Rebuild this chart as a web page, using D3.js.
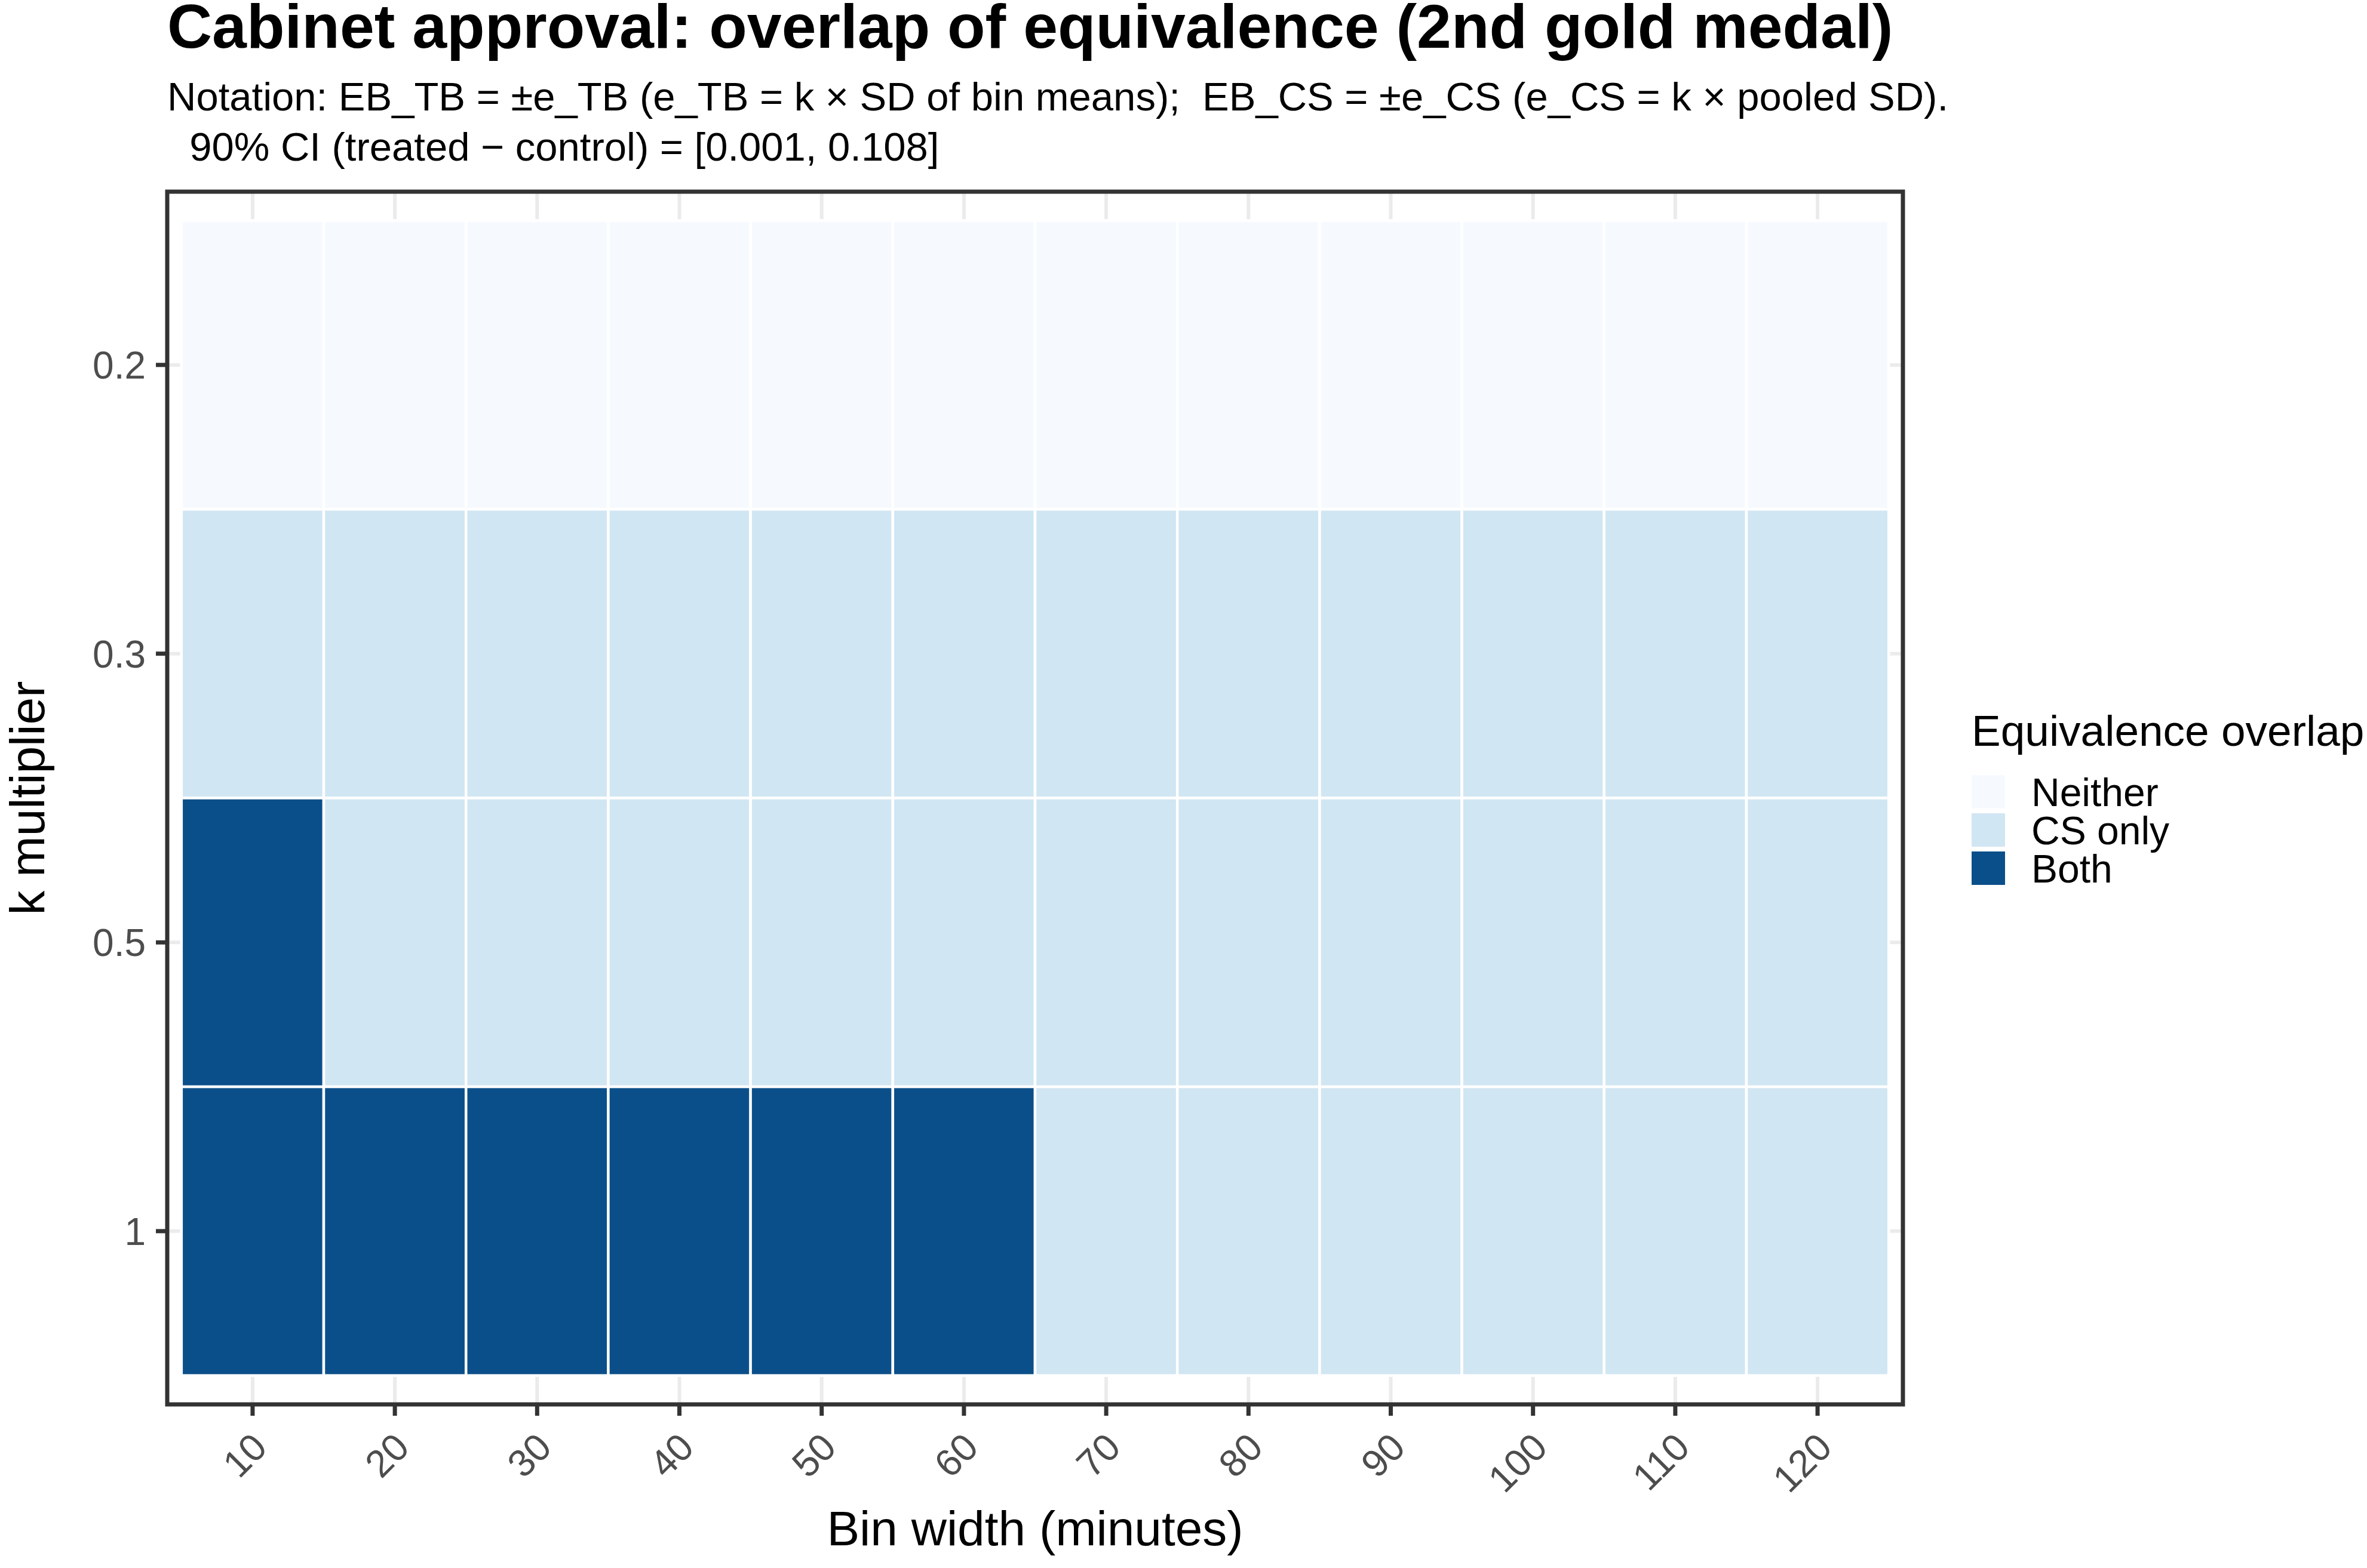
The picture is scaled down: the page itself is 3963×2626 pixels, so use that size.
<!DOCTYPE html>
<html>
<head>
<meta charset="utf-8">
<script src="https://cdn.jsdelivr.net/npm/d3@7"></script>
<style>
  body { margin: 0; background: #ffffff; }
  svg text { font-family: "Liberation Sans", Arial, Helvetica, sans-serif; white-space: pre; }
</style>
</head>
<body>
<svg id="canvas" width="3963" height="2626"></svg>
<script>
// data
const binWidths = [10, 20, 30, 40, 50, 60, 70, 80, 90, 100, 110, 120];
const kValues = ["0.2", "0.3", "0.5", "1"];
const overlapLevels = ["Neither", "CS only", "Both"];

// overlap result per k row, one entry per bin width
const overlap_k02 = ["Neither", "Neither", "Neither", "Neither", "Neither", "Neither", "Neither", "Neither", "Neither", "Neither", "Neither", "Neither"];
const overlap_k03 = ["CS only", "CS only", "CS only", "CS only", "CS only", "CS only", "CS only", "CS only", "CS only", "CS only", "CS only", "CS only"];
const overlap_k05 = ["Both", "CS only", "CS only", "CS only", "CS only", "CS only", "CS only", "CS only", "CS only", "CS only", "CS only", "CS only"];
const overlap_k1 = ["Both", "Both", "Both", "Both", "Both", "Both", "CS only", "CS only", "CS only", "CS only", "CS only", "CS only"];

const titleText = "Cabinet approval: overlap of equivalence (2nd gold medal)";
const subtitleLines = [
  "Notation: EB_TB = \u00b1e_TB (e_TB = k \u00d7 SD of bin means);  EB_CS = \u00b1e_CS (e_CS = k \u00d7 pooled SD).",
  "  90% CI (treated \u2212 control) = [0.001, 0.108]",
];

const rows = [overlap_k02, overlap_k03, overlap_k05, overlap_k1];
const cells = [];
kValues.forEach((k, i) => {
  binWidths.forEach((b, j) => {
    cells.push({ k: k, bin: b, status: rows[i][j] });
  });
});

const svg = d3.select("#canvas");
svg.append("rect").attr("width", 3963).attr("height", 2626).attr("fill", "#ffffff");

// panel box
const panel = { left: 280, right: 3186, top: 321, bottom: 2352 };

// discrete scales: ggplot expands 0.6 units from the outer tile centres,
// i.e. 0.1 units beyond the tile edges
const x = d3.scaleBand()
  .domain(binWidths)
  .range([panel.left, panel.right])
  .paddingInner(0)
  .paddingOuter(0.1);
const y = d3.scaleBand()
  .domain(kValues)
  .range([panel.top, panel.bottom])
  .paddingInner(0)
  .paddingOuter(0.1);

const fill = d3.scaleOrdinal()
  .domain(overlapLevels)
  .range(["#f6fafe", "#d1e6f3", "#0b4f8a"]);

const g = svg.append("g");

// grid lines
g.selectAll(".gx")
  .data(binWidths)
  .enter()
  .append("line")
  .attr("x1", (d) => x(d) + x.bandwidth() / 2)
  .attr("x2", (d) => x(d) + x.bandwidth() / 2)
  .attr("y1", panel.top)
  .attr("y2", panel.bottom)
  .attr("stroke", "#ebebeb")
  .attr("stroke-width", 6);
g.selectAll(".gy")
  .data(kValues)
  .enter()
  .append("line")
  .attr("y1", (d) => y(d) + y.bandwidth() / 2)
  .attr("y2", (d) => y(d) + y.bandwidth() / 2)
  .attr("x1", panel.left)
  .attr("x2", panel.right)
  .attr("stroke", "#ebebeb")
  .attr("stroke-width", 6);

// tiles
g.selectAll(".tile")
  .data(cells)
  .enter()
  .append("rect")
  .attr("class", "tile")
  .attr("x", (d) => x(d.bin))
  .attr("y", (d) => y(d.k))
  .attr("width", x.bandwidth())
  .attr("height", y.bandwidth())
  .attr("fill", (d) => fill(d.status))
  .attr("stroke", "#ffffff")
  .attr("stroke-width", 4.5);

// panel border
g.append("rect")
  .attr("x", panel.left)
  .attr("y", panel.top)
  .attr("width", panel.right - panel.left)
  .attr("height", panel.bottom - panel.top)
  .attr("fill", "none")
  .attr("stroke", "#333333")
  .attr("stroke-width", 7);

// x axis
const xAxis = d3.axisBottom(x).tickSize(19).tickSizeOuter(0).tickPadding(0);
const xg = svg.append("g")
  .attr("transform", `translate(0,${panel.bottom})`)
  .call(xAxis);
xg.select(".domain").remove();
xg.selectAll(".tick line").attr("stroke", "#333333").attr("stroke-width", 7);
xg.selectAll(".tick text")
  .attr("fill", "#4d4d4d")
  .attr("font-size", 64)
  .attr("text-anchor", "end")
  .attr("y", 0)
  .attr("dy", "0.72em")
  .attr("transform", "translate(-5,43) rotate(-45)");

// y axis
const yAxis = d3.axisLeft(y).tickSize(19).tickSizeOuter(0).tickPadding(17);
const yg = svg.append("g")
  .attr("transform", `translate(${panel.left},0)`)
  .call(yAxis);
yg.select(".domain").remove();
yg.selectAll(".tick line").attr("stroke", "#333333").attr("stroke-width", 7);
yg.selectAll(".tick text")
  .attr("fill", "#4d4d4d")
  .attr("font-size", 64)
  .attr("dy", "0.36em");

// axis titles
svg.append("text")
  .attr("x", (panel.left + panel.right) / 2)
  .attr("y", 2588)
  .attr("text-anchor", "middle")
  .attr("font-size", 82)
  .attr("fill", "#000000")
  .text("Bin width (minutes)");
svg.append("text")
  .attr("transform", `translate(74,${(panel.top + panel.bottom) / 2}) rotate(-90)`)
  .attr("text-anchor", "middle")
  .attr("font-size", 82)
  .attr("fill", "#000000")
  .text("k multiplier");

// title and subtitle
svg.append("text")
  .attr("x", 280)
  .attr("y", 80)
  .attr("font-size", 104)
  .attr("font-weight", "bold")
  .attr("fill", "#000000")
  .text(titleText);
svg.selectAll(".subtitle")
  .data(subtitleLines)
  .enter()
  .append("text")
  .attr("class", "subtitle")
  .attr("x", 280)
  .attr("y", (d, i) => 185 + i * 84)
  .attr("font-size", 67)
  .attr("fill", "#000000")
  .text((d) => d);

// legend
const legend = svg.append("g").attr("transform", "translate(3301,0)");
legend.append("text")
  .attr("x", 0)
  .attr("y", 1249)
  .attr("font-size", 73)
  .attr("fill", "#000000")
  .text("Equivalence overlap");
const keyY = d3.scaleBand().domain(overlapLevels).range([1294, 1486]);
legend.selectAll(".key")
  .data(overlapLevels)
  .enter()
  .append("rect")
  .attr("x", 0)
  .attr("y", (d) => keyY(d) + 4)
  .attr("width", 56)
  .attr("height", keyY.bandwidth() - 8)
  .attr("fill", (d) => fill(d));
legend.selectAll(".lab")
  .data(overlapLevels)
  .enter()
  .append("text")
  .attr("x", 100)
  .attr("y", (d) => keyY(d) + keyY.bandwidth() / 2)
  .attr("dy", "0.36em")
  .attr("font-size", 66)
  .attr("fill", "#000000")
  .text((d) => d);
</script>
</body>
</html>
